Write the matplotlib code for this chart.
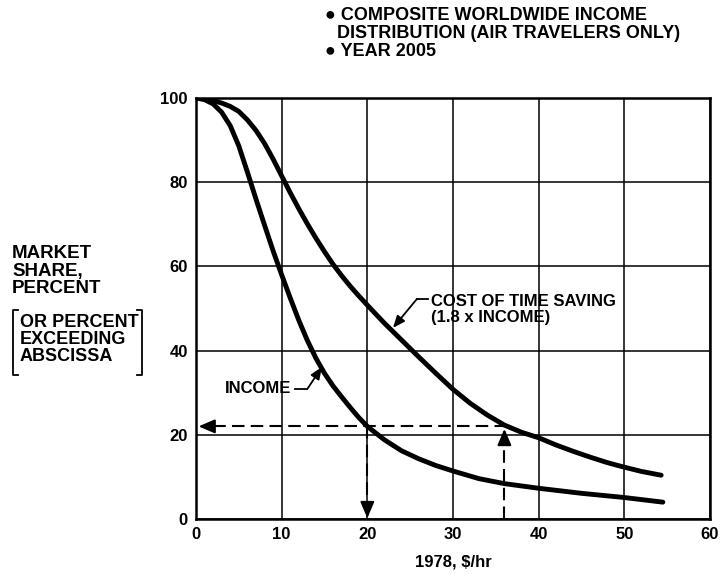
import matplotlib
matplotlib.use("Agg")
import matplotlib.pyplot as plt
from matplotlib.lines import Line2D

plt.rcParams['font.family'] = ['Liberation Sans', 'DejaVu Sans']
plt.rcParams['font.weight'] = 'bold'

# income distribution, $/hr vs percent exceeding
income_x = [0, 1, 2, 3, 4, 5, 6, 7, 8, 9, 10, 11, 12, 13, 14, 15, 16, 17, 18, 19,
            20, 22, 24, 26, 28, 30, 33, 36, 40, 45, 50, 54.5]
income_y = [100, 99.6, 98.6, 96.6, 93.4, 88.6, 82.4, 76, 69.8, 63.7, 58, 52.5, 47.2, 42.4,
            38.2, 34.6, 31.6, 29, 26.5, 24.1, 22, 18.8, 16.2, 14.3, 12.7, 11.4, 9.6, 8.4,
            7.3, 6.1, 5.1, 4.0]

# cost of time saving (1.8 x income)
cost_x = [0, 1, 2, 3, 4, 5, 6, 7, 8, 9, 10, 11, 12, 13, 14, 15, 16, 17, 18, 19, 20,
          22, 24, 26, 28, 30, 32, 34, 36, 38, 40, 42, 44, 46, 48, 50, 52, 54.3]
cost_y = [100, 99.8, 99.4, 98.8, 98.0, 96.8, 94.8, 92.3, 89.2, 85.5, 81.5, 77.5, 73.7,
          70.1, 66.7, 63.5, 60.5, 57.8, 55.3, 53, 50.8, 46.5, 42.5, 38.5, 34.6, 30.8, 27.5,
          24.7, 22.3, 20.6, 19.3, 17.6, 16.1, 14.7, 13.4, 12.3, 11.3, 10.4]

xticks = [0, 10, 20, 30, 40, 50, 60]
yticks = [0, 20, 40, 60, 80, 100]

# reading example: income 20 $/hr -> cost 36 $/hr -> share 22 %
read_income = 20
read_cost = 36
read_share = 22

W, H = 724, 575


def px(x, y):
    return (x / W, 1 - y / H)


fig = plt.figure(figsize=(W / 100, H / 100), dpi=100)
ax = fig.add_axes([196 / W, 1 - 519 / H, (710 - 196) / W, (519 - 98) / H])

ax.plot(income_x, income_y, color='black', lw=3.5, solid_capstyle='round', zorder=4)
ax.plot(cost_x, cost_y, color='black', lw=3.5, solid_capstyle='round', zorder=4)

ax.set_xlim(0, 60)
ax.set_ylim(0, 100)
ax.set_xticks(xticks)
ax.set_yticks(yticks)
ax.grid(True, color='black', lw=1.1)
ax.tick_params(length=0, labelsize=12, pad=6)
for lab in ax.get_xticklabels() + ax.get_yticklabels():
    lab.set_fontweight('bold')
for s in ax.spines.values():
    s.set_linewidth(1.8)
ax.set_xlabel('1978, \\$/hr', fontsize=12, fontweight='bold', labelpad=9)

# dashed reading lines
dash = dict(color='black', lw=1.5, dashes=(6, 3), zorder=3)
head = dict(arrowstyle='-|>,head_length=0.7,head_width=0.3', color='black', lw=1.5,
            mutation_scale=14, shrinkA=0, shrinkB=0)
ax.plot([read_cost, read_cost], [0, read_share - 1.2], **dash)
ax.annotate('', xy=(read_cost, read_share - 0.6), xytext=(read_cost, read_share - 4), arrowprops=head)
ax.plot([read_cost + 0.3, 0.8], [read_share, read_share], **dash)
ax.annotate('', xy=(0.3, read_share), xytext=(2.2, read_share), arrowprops=head)
ax.plot([read_income, read_income], [read_share, 1.5], **dash)
ax.annotate('', xy=(read_income, 0.2), xytext=(read_income, 4), arrowprops=head)

# curve labels
lead = dict(arrowstyle='-|>,head_length=0.6,head_width=0.25', color='black', lw=1.3,
            mutation_scale=12, shrinkA=0, shrinkB=0)
ax.text(27.4, 49.8, 'COST OF TIME SAVING\n(1.8 x INCOME)', fontsize=12, fontweight='bold',
        ha='left', va='center', linespacing=1.05)
ax.plot([25.8, 27.1], [52.3, 52.3], color='black', lw=1.3)
ax.annotate('', xy=(23.0, 45.4), xytext=(25.8, 52.3), arrowprops=lead)

ax.text(11.1, 30.9, 'INCOME', fontsize=12, fontweight='bold', ha='right', va='center')
ax.plot([11.5, 13.0], [30.9, 30.9], color='black', lw=1.3)
ax.annotate('', xy=(14.7, 36.1), xytext=(13.0, 30.9), arrowprops=lead)

# y axis title
fig.text(*px(12, 245), 'MARKET\nSHARE,\nPERCENT', fontsize=13.5, fontweight='bold',
         ha='left', va='top', linespacing=1.05)
fig.text(*px(20, 314), 'OR PERCENT\nEXCEEDING\nABSCISSA', fontsize=13, fontweight='bold',
         ha='left', va='top', linespacing=1.0)
for bx, d in [(13, 5), (142, -5)]:
    xs = [bx + d, bx, bx, bx + d]
    ys = [310, 310, 375, 375]
    fig.add_artist(Line2D([x / W for x in xs], [1 - y / H for y in ys],
                          color='black', lw=1.3, transform=fig.transFigure))

# header notes
fig.text(*px(325, 15), '\u25cf COMPOSITE WORLDWIDE INCOME', fontsize=13, fontweight='bold',
         ha='left', va='center')
fig.text(*px(337, 33), 'DISTRIBUTION (AIR TRAVELERS ONLY)', fontsize=13, fontweight='bold',
         ha='left', va='center')
fig.text(*px(325, 51), '\u25cf YEAR 2005', fontsize=13, fontweight='bold',
         ha='left', va='center')

fig.savefig('out.png', dpi=100)
